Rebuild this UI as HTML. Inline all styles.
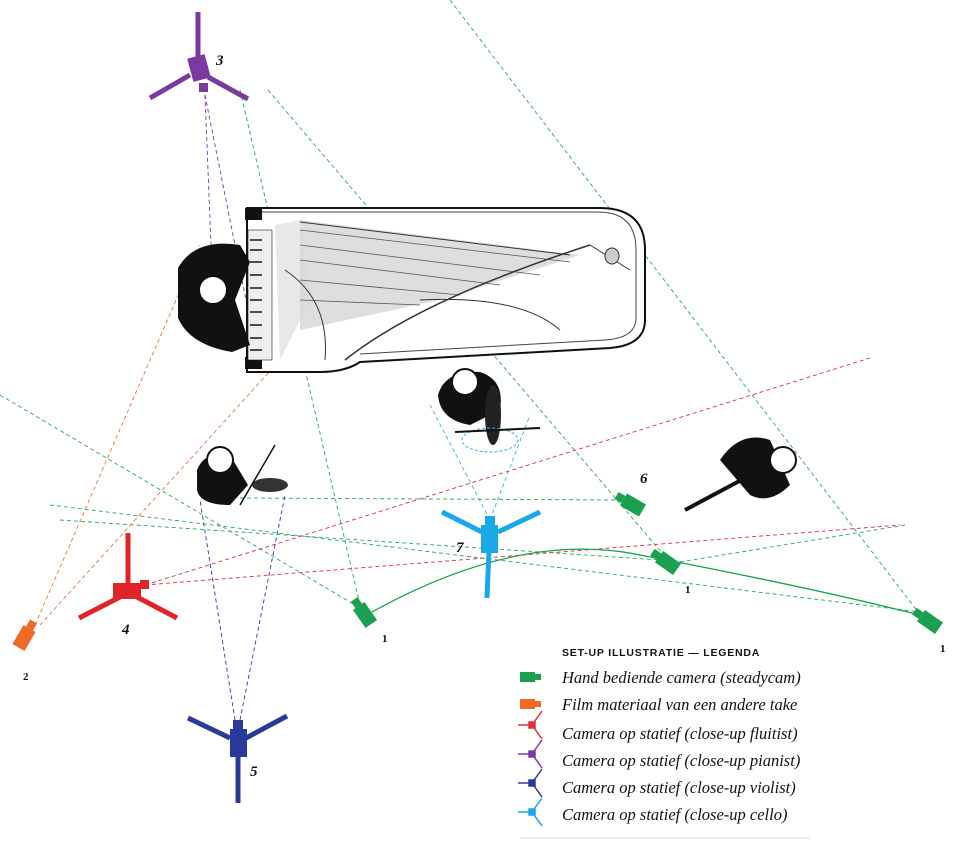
<!DOCTYPE html>
<html><head><meta charset="utf-8"><style>
html,body{margin:0;padding:0;background:#fff;}
svg{display:block}
.lg{font-family:"Liberation Serif",serif;font-style:italic;font-size:16.5px;fill:#111}
.num{font-family:"Liberation Serif",serif;font-style:italic;font-weight:bold;font-size:15px;fill:#111}
.n1{font-family:"Liberation Serif",serif;font-weight:bold;font-size:11px;fill:#111}
</style></head><body>
<svg width="978" height="841" viewBox="0 0 978 841">
<g fill="none" stroke-width="0.9" stroke-dasharray="4,3">
 <g stroke="#2aa56a">
  <line x1="450" y1="0" x2="918" y2="612"/>
  <line x1="268" y1="90" x2="668" y2="560"/>
  <line x1="240" y1="90" x2="360" y2="605"/>
  <line x1="0" y1="395" x2="355" y2="605"/>
  <line x1="50" y1="505" x2="920" y2="612"/>
  <line x1="60" y1="520" x2="660" y2="560"/>
  <line x1="240" y1="498" x2="620" y2="500"/>
  <line x1="905" y1="525" x2="680" y2="562"/>
 </g>
 <g stroke="#e8743a">
  <line x1="35" y1="625" x2="200" y2="245"/>
  <line x1="40" y1="625" x2="280" y2="360"/>
 </g>
 <g stroke="#e0303a">
  <line x1="145" y1="585" x2="870" y2="358"/>
  <line x1="145" y1="585" x2="900" y2="525"/>
 </g>
 <g stroke="#7a3aa0">
  <line x1="205" y1="95" x2="255" y2="345"/>
  <line x1="205" y1="95" x2="215" y2="345"/>
 </g>
 <g stroke="#2a3a9a">
  <line x1="235" y1="720" x2="200" y2="500"/>
  <line x1="240" y1="720" x2="285" y2="495"/>
 </g>
 <g stroke="#3ab0e8">
  <line x1="490" y1="520" x2="430" y2="405"/>
  <line x1="490" y1="520" x2="530" y2="415"/>
 </g>
</g>
<g>
 <path d="M247,208 H600 Q645,208 645,250 V320 Q645,345 610,348 L360,362 Q345,372 320,372 H247 Z" fill="#fff" stroke="#111" stroke-width="2"/>
 <path d="M262,212 H598 Q636,212 636,250 V318 Q636,338 605,340 L360,354" fill="none" stroke="#444" stroke-width="1"/>
 <rect x="245" y="208" width="17" height="12" fill="#111"/>
 <rect x="245" y="357" width="17" height="12" fill="#111"/>
 <rect x="248" y="230" width="24" height="130" fill="#eee" stroke="#222" stroke-width="0.6"/>
 <g stroke="#222" stroke-width="1.6">
  <line x1="250" y1="240" x2="262" y2="240"/><line x1="250" y1="250" x2="262" y2="250"/><line x1="250" y1="262" x2="262" y2="262"/><line x1="250" y1="275" x2="262" y2="275"/><line x1="250" y1="288" x2="262" y2="288"/><line x1="250" y1="300" x2="262" y2="300"/><line x1="250" y1="312" x2="262" y2="312"/><line x1="250" y1="325" x2="262" y2="325"/><line x1="250" y1="338" x2="262" y2="338"/><line x1="250" y1="350" x2="262" y2="350"/>
 </g>
 <path d="M300,220 L580,255 L440,300 L300,330 Z" fill="#c8c8c8" opacity="0.6"/>
 <path d="M275,225 L300,220 L310,300 L280,360 Z" fill="#d8d8d8" opacity="0.6"/>
 <g stroke="#555" stroke-width="0.8" fill="none">
  <path d="M300,230 L570,262"/><path d="M300,245 L540,275"/><path d="M300,260 L500,285"/><path d="M300,280 L460,295"/><path d="M300,300 L420,305"/>
 </g>
 <path d="M300,222 L570,255" stroke="#333" fill="none"/>
 <path d="M345,360 Q420,300 590,245" stroke="#333" fill="none" stroke-width="1.5"/>
 <path d="M285,270 Q330,300 325,360" stroke="#333" fill="none"/>
 <path d="M420,300 Q520,295 560,330" stroke="#333" fill="none"/>
 <path d="M590,245 L630,270" stroke="#333" fill="none"/>
 <ellipse cx="612" cy="256" rx="7" ry="8" fill="#ccc" stroke="#333"/>
</g>
<g fill="#111">
 <path d="M178,268 Q195,238 240,245 L250,262 L235,300 L250,345 L232,352 Q190,345 178,318 Z"/>
 <circle cx="213" cy="290" r="14" fill="#fff" stroke="#111" stroke-width="2"/>
 <g>
  <path d="M438,395 Q445,370 480,372 Q505,380 500,410 L470,425 Q440,420 438,395Z"/>
  <circle cx="465" cy="382" r="13" fill="#fff" stroke="#111" stroke-width="2"/>
  <ellipse cx="493" cy="415" rx="8" ry="30" fill="#222"/>
  <ellipse cx="490" cy="440" rx="28" ry="12" fill="none" stroke="#3ab0e8" stroke-dasharray="3,2"/>
  <line x1="455" y1="432" x2="540" y2="428" stroke="#111" stroke-width="2"/>
 </g>
 <g>
  <path d="M197,470 Q205,450 230,455 L248,485 L230,505 Q200,505 197,490Z"/>
  <circle cx="220" cy="460" r="13" fill="#fff" stroke="#111" stroke-width="2"/>
  <ellipse cx="270" cy="485" rx="18" ry="7" fill="#333"/>
  <line x1="240" y1="505" x2="275" y2="445" stroke="#111" stroke-width="1.5"/>
 </g>
 <g>
  <path d="M720,460 Q740,430 770,440 L790,485 Q770,505 750,495Z"/>
  <circle cx="783" cy="460" r="13" fill="#fff" stroke="#111" stroke-width="2"/>
  <line x1="685" y1="510" x2="760" y2="470" stroke="#111" stroke-width="4"/>
 </g>
</g>
<path d="M372,612 Q520,530 640,555 Q800,585 920,615" fill="none" stroke="#16a34a" stroke-width="1.3"/>
<g fill="#1aa050">
 <g transform="translate(633,505) rotate(30)"><rect x="-11" y="-7" width="22" height="14"/><rect x="-19" y="-4" width="8" height="8"/></g>
 <g transform="translate(668,563) rotate(35)"><rect x="-11" y="-7" width="22" height="14"/><rect x="-19" y="-4" width="8" height="8"/></g>
 <g transform="translate(365,615) rotate(55)"><rect x="-11" y="-7" width="22" height="14"/><rect x="-19" y="-4" width="8" height="8"/></g>
 <g transform="translate(930,622) rotate(35)"><rect x="-11" y="-7" width="22" height="14"/><rect x="-19" y="-4" width="8" height="8"/></g>
</g>
<g fill="#ee6a25" transform="translate(24,638) rotate(-60)"><rect x="-11" y="-7" width="22" height="14"/><rect x="11" y="-4" width="8" height="8"/></g>
<g stroke="#7b3aa0" stroke-width="5" fill="#7b3aa0">
 <line x1="198" y1="12" x2="198" y2="60"/><line x1="190" y1="75" x2="150" y2="98"/><line x1="208" y1="77" x2="248" y2="99"/>
 <rect x="190" y="56" width="18" height="24" stroke="none" transform="rotate(-15 199 68)"/><rect x="199" y="83" width="9" height="9" stroke="none"/>
</g>
<g stroke="#e0252a" stroke-width="5" fill="#e0252a">
 <line x1="128" y1="533" x2="128" y2="585"/><line x1="120" y1="597" x2="79" y2="618"/><line x1="137" y1="597" x2="177" y2="618"/>
 <rect x="113" y="583" width="28" height="16" stroke="none"/><rect x="140" y="580" width="9" height="9" stroke="none"/>
</g>
<g stroke="#2a3a9a" stroke-width="5" fill="#2a3a9a">
 <line x1="188" y1="718" x2="230" y2="738"/><line x1="287" y1="716" x2="246" y2="738"/><line x1="238" y1="755" x2="238" y2="803"/>
 <rect x="230" y="729" width="17" height="28" stroke="none"/><rect x="233" y="720" width="10" height="9" stroke="none"/>
</g>
<g stroke="#1aa8e8" stroke-width="5" fill="#1aa8e8">
 <line x1="442" y1="512" x2="482" y2="532"/><line x1="540" y1="512" x2="498" y2="532"/><line x1="489" y1="550" x2="487" y2="598"/>
 <rect x="481" y="525" width="17" height="28" stroke="none"/><rect x="485" y="516" width="10" height="9" stroke="none"/>
</g>
<text class="num" x="216" y="65">3</text>
<text class="num" x="122" y="634">4</text>
<text class="num" x="250" y="776">5</text>
<text class="num" x="456" y="552">7</text>
<text class="num" x="640" y="483">6</text>
<text class="n1" x="382" y="642">1</text>
<text class="n1" x="685" y="593">1</text>
<text class="n1" x="940" y="652">1</text>
<text class="n1" x="23" y="680">2</text>
<g>
 <text x="562" y="656" font-family="Liberation Sans,sans-serif" font-weight="bold" font-size="10.5" letter-spacing="0.8" fill="#111">SET-UP ILLUSTRATIE — LEGENDA</text>
 <g><rect x="520" y="672" width="15" height="10" fill="#1aa050"/><rect x="535" y="674" width="6" height="6" fill="#1aa050"/><text class="lg" x="562" y="683">Hand bediende camera (steadycam)</text></g>
 <g><rect x="520" y="699" width="15" height="10" fill="#ee6a25"/><rect x="535" y="701" width="6" height="6" fill="#ee6a25"/><text class="lg" x="562" y="710">Film materiaal van een andere take</text></g>
 <g fill="none" stroke-width="1.5">
  <g stroke="#e0303a"><line x1="518" y1="725" x2="532" y2="725"/><path d="M542,711 L532,725 L542,739"/><rect x="529" y="722" width="6" height="6" fill="#e0303a"/></g>
  <g stroke="#7b3aa0"><line x1="518" y1="754" x2="532" y2="754"/><path d="M542,740 L532,754 L542,768"/><rect x="529" y="751" width="6" height="6" fill="#7b3aa0"/></g>
  <g stroke="#2a3a9a"><line x1="518" y1="783" x2="532" y2="783"/><path d="M542,769 L532,783 L542,797"/><rect x="529" y="780" width="6" height="6" fill="#2a3a9a"/></g>
  <g stroke="#1aa8e8"><line x1="518" y1="812" x2="532" y2="812"/><path d="M542,798 L532,812 L542,826"/><rect x="529" y="809" width="6" height="6" fill="#1aa8e8"/></g>
 </g>
 <text class="lg" x="562" y="739">Camera op statief (close-up fluitist)</text>
 <text class="lg" x="562" y="766">Camera op statief (close-up pianist)</text>
 <text class="lg" x="562" y="793">Camera op statief (close-up violist)</text>
 <text class="lg" x="562" y="820">Camera op statief (close-up cello)</text>
 <line x1="520" y1="838" x2="810" y2="838" stroke="#ddd" stroke-width="1"/>
</g>
</svg>
</body></html>
